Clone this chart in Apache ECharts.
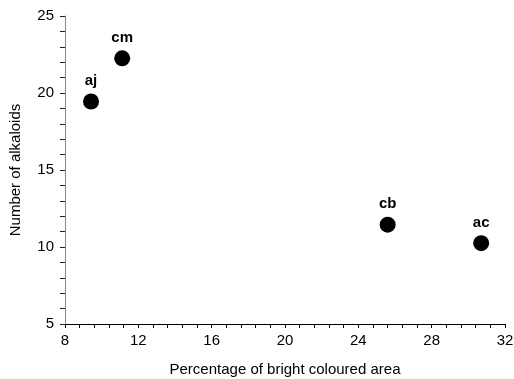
<!DOCTYPE html>
<html>
<head>
<meta charset="utf-8">
<script src="https://cdn.jsdelivr.net/npm/echarts@6/dist/echarts.min.js"></script>
<style>
  html, body { margin: 0; padding: 0; background: #fff; }
  #main { width: 514px; height: 379px; }
</style>
</head>
<body>
<div id="main"></div>
<script>
// species labels and values
var names = ['aj', 'cm', 'cb', 'ac'];
var brightArea = [9.42, 11.12, 25.6, 30.7];
var alkaloids = [19.45, 22.25, 11.45, 10.25];

var pts = names.map(function (n, i) {
  return { name: n, value: [brightArea[i], alkaloids[i]] };
});

var font = 'Liberation Sans, Arial, sans-serif';
var chart = echarts.init(document.getElementById('main'));
chart.setOption({
  animation: false,
  grid: { left: 65, right: 9, top: 16, bottom: 55, outerBoundsMode: 'none' },
  xAxis: {
    type: 'value',
    min: 8, max: 32, interval: 4,
    name: 'Percentage of bright coloured area',
    nameLocation: 'middle',
    nameGap: 38,
    nameTextStyle: { color: '#000', fontSize: 15, fontFamily: font },
    axisLine: { show: true, lineStyle: { color: '#000', width: 1 } },
    axisTick: { show: true, inside: false, length: 4, lineStyle: { color: '#000' } },
    minorTick: { show: true, splitNumber: 5, length: 4, lineStyle: { color: '#000' } },
    axisLabel: { color: '#000', fontSize: 15, fontFamily: font, margin: 9 },
    splitLine: { show: false }
  },
  yAxis: {
    type: 'value',
    min: 5, max: 25, interval: 5,
    name: 'Number of alkaloids',
    nameLocation: 'middle',
    nameGap: 42,
    nameTextStyle: { color: '#000', fontSize: 15, fontFamily: font },
    axisLine: { show: true, lineStyle: { color: '#888', width: 1 } },
    axisTick: { show: true, inside: false, length: 5, lineStyle: { color: '#222' } },
    minorTick: { show: true, splitNumber: 5, length: 5, lineStyle: { color: '#222' } },
    axisLabel: { color: '#000', fontSize: 15, fontFamily: font, margin: 11 },
    splitLine: { show: false }
  },
  series: [{
    type: 'scatter',
    symbol: 'circle',
    symbolSize: 16,
    itemStyle: { color: '#000', opacity: 1 },
    label: {
      show: true,
      position: 'top',
      distance: 5,
      formatter: '{b}',
      color: '#000',
      fontSize: 15,
      fontWeight: 'bold',
      fontFamily: font
    },
    data: pts
  }]
});
</script>
</body>
</html>
